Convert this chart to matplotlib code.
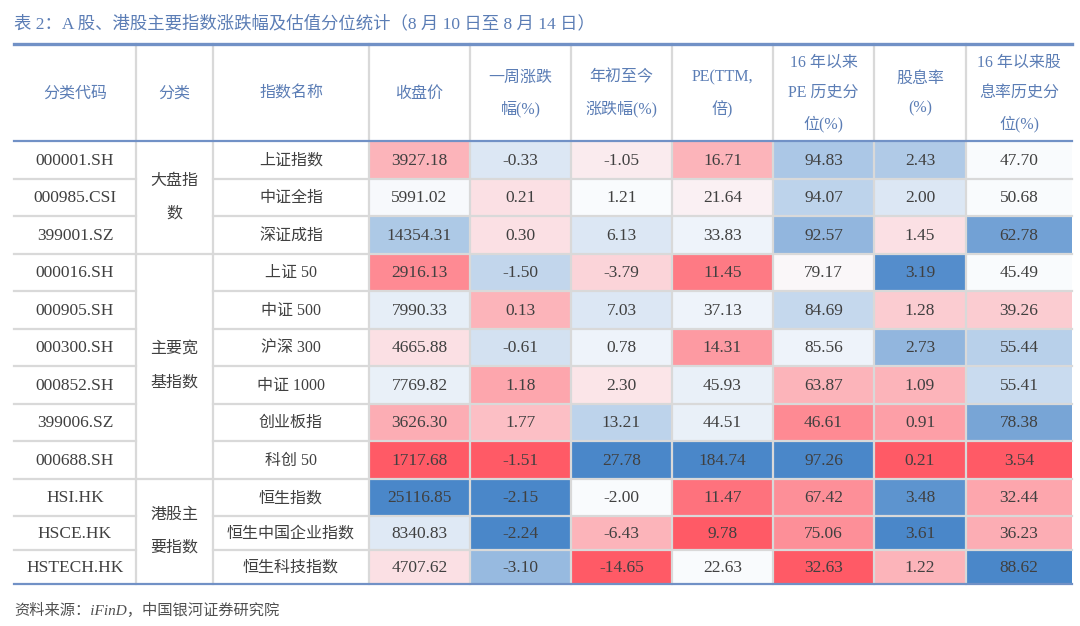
import matplotlib
matplotlib.use("Agg")
import matplotlib.pyplot as plt
from matplotlib.patches import Rectangle
from matplotlib.colors import LinearSegmentedColormap

# ---- data ----
codes = ["000001.SH", "000985.CSI", "399001.SZ", "000016.SH", "000905.SH",
         "000300.SH", "000852.SH", "399006.SZ", "000688.SH",
         "HSI.HK", "HSCE.HK", "HSTECH.HK"]
names = ["上证指数", "中证全指", "深证成指", "上证 50", "中证 500", "沪深 300",
         "中证 1000", "创业板指", "科创 50", "恒生指数", "恒生中国企业指数", "恒生科技指数"]
group_labels = ["大盘指\n数", "主要宽\n基指数", "港股主\n要指数"]
group_sizes = [3, 6, 3]

close = [3927.18, 5991.02, 14354.31, 2916.13, 7990.33, 4665.88,
         7769.82, 3626.30, 1717.68, 25116.85, 8340.83, 4707.62]
week_chg = [-0.33, 0.21, 0.30, -1.50, 0.13, -0.61, 1.18, 1.77, -1.51, -2.15, -2.24, -3.10]
ytd_chg = [-1.05, 1.21, 6.13, -3.79, 7.03, 0.78, 2.30, 13.21, 27.78, -2.00, -6.43, -14.65]
pe_ttm = [16.71, 21.64, 33.83, 11.45, 37.13, 14.31, 45.93, 44.51, 184.74, 11.47, 9.78, 22.63]
pe_pct = [94.83, 94.07, 92.57, 79.17, 84.69, 85.56, 63.87, 46.61, 97.26, 67.42, 75.06, 32.63]
div_yield = [2.43, 2.00, 1.45, 3.19, 1.28, 2.73, 1.09, 0.91, 0.21, 3.48, 3.61, 1.22]
div_pct = [47.70, 50.68, 62.78, 45.49, 39.26, 55.44, 55.41, 78.38, 3.54, 32.44, 36.23, 88.62]

headers = ["分类代码", "分类", "指数名称", "收盘价", "一周涨跌\n幅(%)", "年初至今\n涨跌幅(%)",
           "PE(TTM,\n倍)", "16 年以来\nPE 历史分\n位(%)", "股息率\n(%)",
           "16 年以来股\n息率历史分\n位(%)"]

title = "表 2：A 股、港股主要指数涨跌幅及估值分位统计（8 月 10 日至 8 月 14 日）"
source = "资料来源：iFinD，中国银河证券研究院"

# cell shading (-1 red ... 0 white ... 1 blue)
shade = [
    [-0.44, 0.17, -0.10, -0.44, 0.45, 0.42, 0.00],
    [0.02, -0.17, 0.00, -0.07, 0.35, 0.17, 0.00],
    [0.43, -0.17, 0.17, 0.07, 0.59, -0.17, 0.77],
    [-0.70, 0.32, -0.24, -0.80, -0.03, 0.94, 0.00],
    [0.11, -0.44, 0.17, 0.07, 0.30, -0.29, -0.29],
    [-0.17, 0.22, 0.07, -0.60, 0.07, 0.59, 0.37],
    [0.10, -0.53, -0.14, 0.10, -0.44, -0.44, 0.28],
    [-0.48, -0.37, 0.35, 0.10, -0.70, -0.57, 0.74],
    [-1.00, -1.00, 1.00, 1.00, 1.00, -1.00, -1.00],
    [1.00, 1.00, 0.00, -0.85, -0.67, 0.89, -0.53],
    [0.15, 1.00, -0.44, -1.00, -0.67, 1.00, -0.48],
    [-0.17, 0.56, -1.00, 0.00, -1.00, -0.44, 1.00],
]

cmap = LinearSegmentedColormap.from_list("rwb", ["#ff5a66", "#fafbfd", "#4a87c9"])

FONT = ["Liberation Serif", "Noto Sans CJK SC", "DejaVu Sans"]
plt.rcParams["font.family"] = FONT

HEAD_C = "#5b7db5"
TEXT_C = "#404040"
GRID_C = "#d9d9d9"
RULE_C = "#7191c6"

fig = plt.figure(figsize=(10.8, 6.26), dpi=100)
ax = fig.add_axes([0, 0, 1, 1])
ax.set_xlim(0, 1080)
ax.set_ylim(626, 0)
ax.axis("off")

# layout in pixels
col_edges = [14, 136, 213, 369, 470, 571, 672, 773, 874, 966, 1072]
head_top, head_bot = 44, 141
row_heights = [37.5] * 10 + [34, 34]
nrows = len(codes)
row_edges = [head_bot]
for h in row_heights:
    row_edges.append(row_edges[-1] + h)

# title
ax.text(14, 24, title, fontsize=12.5, color=HEAD_C, va="center", ha="left")

# coloured cells
numeric = [close, week_chg, ytd_chg, pe_ttm, pe_pct, div_yield, div_pct]
for j, col in enumerate(numeric):
    x0, x1 = col_edges[3 + j], col_edges[4 + j]
    for i, v in enumerate(col):
        y0, y1 = row_edges[i], row_edges[i + 1]
        ax.add_patch(Rectangle((x0, y0), x1 - x0, y1 - y0,
                               facecolor=cmap((shade[i][j] + 1) / 2), edgecolor="none"))
        ax.text((x0 + x1) / 2, (y0 + y1) / 2 + 1, f"{v:.2f}", fontsize=12.5,
                color=TEXT_C, ha="center", va="center")

# code / name columns
for i in range(nrows):
    yc = (row_edges[i] + row_edges[i + 1]) / 2 + 1
    ax.text((col_edges[0] + col_edges[1]) / 2, yc, codes[i], fontsize=12.5,
            color=TEXT_C, ha="center", va="center")
    ax.text((col_edges[2] + col_edges[3]) / 2, yc, names[i], fontsize=11.5,
            color=TEXT_C, ha="center", va="center")

# merged group cells
start = 0
group_bounds = []
for lab, n in zip(group_labels, group_sizes):
    y0, y1 = row_edges[start], row_edges[start + n]
    ax.text((col_edges[1] + col_edges[2]) / 2, (y0 + y1) / 2, lab, fontsize=11.5,
            color=TEXT_C, ha="center", va="center", linespacing=2.35)
    start += n
    group_bounds.append(start)

# headers
for j, h in enumerate(headers):
    ax.text((col_edges[j] + col_edges[j + 1]) / 2, (head_top + head_bot) / 2 + 1, h,
            fontsize=11.5, color=HEAD_C, ha="center", va="center", linespacing=2.15)

# grid lines
for i in range(1, nrows):
    y = row_edges[i]
    ax.plot([col_edges[0], col_edges[1]], [y, y], color=GRID_C, lw=1.6)
    ax.plot([col_edges[2], col_edges[-1]], [y, y], color=GRID_C, lw=1.6)
    if i in group_bounds:
        ax.plot([col_edges[1], col_edges[2]], [y, y], color=GRID_C, lw=1.6)
for x in col_edges[1:-1]:
    ax.plot([x, x], [head_top, row_edges[-1]], color=GRID_C, lw=1.6)

# blue rules
ax.plot([col_edges[0], col_edges[-1]], [head_top, head_top], color=RULE_C, lw=2.4)
ax.plot([col_edges[0], col_edges[-1]], [head_bot, head_bot], color=RULE_C, lw=1.6)
ax.plot([col_edges[0], col_edges[-1]], [row_edges[-1], row_edges[-1]], color=RULE_C, lw=1.6)

# source note
ax.text(14, 610, source, fontsize=11, color="#505050", style="italic",
        ha="left", va="center")

fig.savefig("out.png", dpi=100)
